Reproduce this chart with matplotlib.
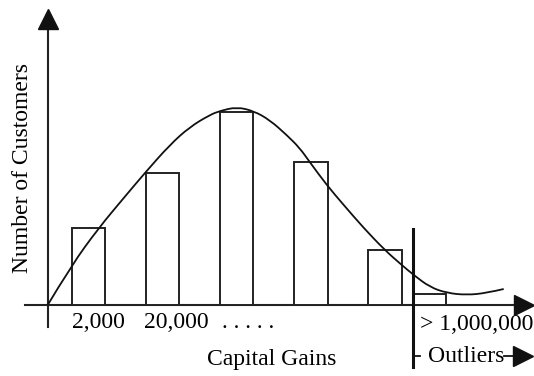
import matplotlib
matplotlib.use("Agg")
import matplotlib.pyplot as plt
from matplotlib.path import Path
from matplotlib.patches import PathPatch

plt.rcParams['font.family'] = ['Liberation Serif', 'DejaVu Serif']

# bins of the histogram (left edge, width, height)
bin_left = [24, 98, 172.3, 246.6, 320.6, 365.6]
bin_width = [33.4, 33.6, 33.3, 33.4, 33.4, 33]
bin_height = [76.7, 131.7, 193.3, 142.7, 54.7, 10.7]

# fitted curve
curve_x = [0, 24, 51, 76, 98, 122, 142, 162, 172, 189, 206, 222, 239, 252, 262,
           279, 296, 316, 337, 354, 366, 382, 399, 419, 439, 456]
curve_y = [0, 40, 77, 107, 133, 160, 178, 190, 194, 198, 194, 185, 170, 157, 143,
           120, 100, 77, 55, 40, 30, 18, 12, 10, 12, 16]

tick_labels = ['2,000', '20,000', '. . . . .']
tick_pos = [50.6, 128.5, 200]
outlier_x = 365

fig = plt.figure(figsize=(5.34, 3.76), dpi=100)
ax = fig.add_axes([0, 0, 1, 1])
ax.set_xlim(-47.7, 486.3)
ax.set_ylim(-71, 305)
ax.axis('off')

# bars
ax.bar(bin_left, bin_height, width=bin_width, align='edge',
       facecolor='white', edgecolor='#222222', linewidth=1.4, zorder=2)

# smooth curve: quadratic segments through midpoints
verts = [(curve_x[0], curve_y[0])]
codes = [Path.MOVETO]
for i in range(1, len(curve_x) - 1):
    mx = (curve_x[i] + curve_x[i + 1]) / 2
    my = (curve_y[i] + curve_y[i + 1]) / 2
    if i == len(curve_x) - 2:
        mx, my = curve_x[-1], curve_y[-1]
    verts += [(curve_x[i], curve_y[i]), (mx, my)]
    codes += [Path.CURVE3, Path.CURVE3]
ax.add_patch(PathPatch(Path(verts, codes), facecolor='none',
                       edgecolor='#111111', linewidth=1.3, zorder=3))

# axes with arrowheads
ax.plot([0, 0], [-22, 277], color='#222222', linewidth=1.5, zorder=1)
ax.plot([-23, 467], [0, 0], color='#222222', linewidth=1.5, zorder=1)
ax.plot(0, 285.7, marker='^', markersize=14.4, color='#111111', zorder=4)
ax.plot(476.3, 0, marker='>', markersize=14.4, color='#111111', zorder=4)

# outlier divider
ax.plot([outlier_x, outlier_x], [-62, 76], color='#111111', linewidth=2.2, zorder=4)
ax.plot([outlier_x, outlier_x + 7], [-51, -51], color='#111111', linewidth=1.3)
ax.plot([456, 465], [-51, -51], color='#111111', linewidth=1.3)
ax.plot(475, -51, marker='>', markersize=14.4, color='#111111')

fs = 17
for lab, xp in zip(tick_labels, tick_pos):
    ax.text(xp, -18, lab, ha='center', va='center', fontsize=fs)
ax.text(428.8, -20, '> 1,000,000', ha='center', va='center', fontsize=fs)
ax.text(224, -55, 'Capital Gains', ha='center', va='center', fontsize=fs)
ax.text(418.8, -51, 'Outliers', ha='center', va='center', fontsize=fs)
ax.text(-24.7, 137, 'Number of Customers', ha='center', va='center',
        rotation=90, fontsize=fs)

fig.savefig('out.png', dpi=100)
